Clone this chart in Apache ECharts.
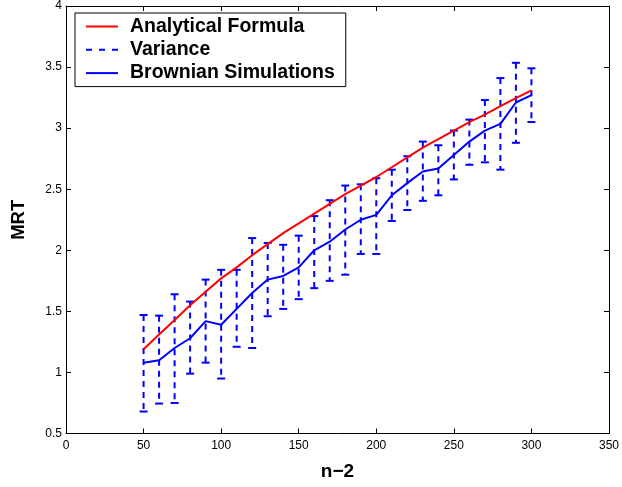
<!DOCTYPE html>
<html>
<head>
<meta charset="utf-8">
<script src="https://cdn.jsdelivr.net/npm/echarts@6/dist/echarts.min.js"></script>
<style>html,body{margin:0;padding:0;background:#fff}#c{width:622px;height:487px}</style>
</head>
<body>
<div id="c"></div>
<script>
const nValues = [50,60,70,80,90,100,110,120,130,140,150,160,170,180,190,200,210,220,230,240,250,260,270,280,290,300];
const analytical = [1.19,1.31,1.43,1.55,1.66,1.77,1.86,1.96,2.05,2.14,2.22,2.30,2.38,2.46,2.53,2.60,2.68,2.76,2.84,2.91,2.98,3.05,3.11,3.18,3.245,3.31];
const brownian = [1.08,1.10,1.20,1.28,1.42,1.39,1.52,1.65,1.76,1.79,1.86,2.00,2.07,2.17,2.25,2.29,2.45,2.55,2.645,2.67,2.78,2.89,2.98,3.035,3.21,3.27];
const varHigh = [1.47,1.465,1.64,1.58,1.76,1.84,1.84,2.10,2.06,2.045,2.12,2.28,2.41,2.53,2.54,2.59,2.66,2.77,2.89,2.86,2.98,3.07,3.23,3.41,3.535,3.49];
const varLow = [0.68,0.745,0.75,0.99,1.08,0.95,1.21,1.20,1.46,1.52,1.60,1.69,1.75,1.80,1.97,1.97,2.24,2.33,2.405,2.45,2.58,2.70,2.72,2.66,2.88,3.05];
const xTicks = {min:0, max:350, interval:50};
const yTicks = {min:0.5, max:4, interval:0.5};

const chart = echarts.init(document.getElementById('c'));
const font = 'Liberation Sans, Arial, Helvetica, sans-serif';
const axisCommon = {
  axisLine:{show:true, onZero:false, lineStyle:{color:'#000', width:1}},
  axisTick:{show:true, inside:true, length:5, lineStyle:{color:'#000'}},
  splitLine:{show:false}
};
const errData = nValues.map((n,i)=>[n, varLow[i], varHigh[i]]);
const blue = '#0000ff';
chart.setOption({
  animation:false,
  backgroundColor:'#fff',
  grid:{left:66, right:10, top:6, bottom:53.5},
  legend:{
    orient:'vertical', left:75, top:13,
    backgroundColor:'#fff', borderColor:'#000', borderWidth:1,
    padding:[3,11,3,11], itemGap:2.3, itemWidth:32, itemHeight:2,
    textStyle:{fontFamily:font, fontWeight:'bold', fontSize:19.5, color:'#000', lineHeight:21, padding:[0,0,0,7]},
    data:[
      {name:'Analytical Formula', icon:'path://M0 0H32V2H0Z', itemStyle:{color:'#ff0000'}},
      {name:'Variance', icon:'path://M0 0H6V2H0Z M13 0H19V2H13Z M26 0H32V2H26Z', itemStyle:{color:blue}},
      {name:'Brownian Simulations', icon:'path://M0 0H32V2H0Z', itemStyle:{color:blue}}
    ]
  },
  xAxis:[
    Object.assign({type:'value', min:xTicks.min, max:xTicks.max, interval:xTicks.interval,
      name:'n\u22122', nameLocation:'middle', nameGap:29,
      nameTextStyle:{fontFamily:font, fontWeight:'bold', fontSize:19, color:'#000'},
      axisLabel:{fontFamily:font, fontSize:12, color:'#000', margin:6}}, axisCommon),
    Object.assign({type:'value', position:'top', min:xTicks.min, max:xTicks.max, interval:xTicks.interval,
      axisLabel:{show:false}}, axisCommon)
  ],
  yAxis:[
    Object.assign({type:'value', min:yTicks.min, max:yTicks.max, interval:yTicks.interval,
      name:'MRT', nameLocation:'middle', nameGap:38, nameRotate:90,
      nameTextStyle:{fontFamily:font, fontWeight:'bold', fontSize:18.5, color:'#000'},
      axisLabel:{fontFamily:font, fontSize:12, color:'#000', margin:4}}, axisCommon),
    Object.assign({type:'value', position:'right', min:yTicks.min, max:yTicks.max, interval:yTicks.interval,
      axisLabel:{show:false}}, axisCommon)
  ],
  series:[
    {
      name:'Variance', type:'custom', data:errData, z:2,
      itemStyle:{color:blue},
      encode:{x:0, y:[1,2]},
      renderItem:function(params, api){
        const x = api.value(0), lo = api.value(1), hi = api.value(2);
        const pLo = api.coord([x, lo]), pHi = api.coord([x, hi]);
        const w = 4;
        const dashed = {stroke:blue, lineWidth:2, lineDash:[6,5], fill:null};
        const solid = {stroke:blue, lineWidth:2, fill:null};
        return {type:'group', children:[
          {type:'line', shape:{x1:pHi[0], y1:pHi[1], x2:pLo[0], y2:pLo[1]}, style:dashed},
          {type:'line', shape:{x1:pHi[0]-w, y1:pHi[1], x2:pHi[0]+w, y2:pHi[1]}, style:solid},
          {type:'line', shape:{x1:pLo[0]-w, y1:pLo[1], x2:pLo[0]+w, y2:pLo[1]}, style:solid}
        ]};
      }
    },
    {
      name:'Analytical Formula', type:'line', data:nValues.map((n,i)=>[n, analytical[i]]),
      showSymbol:false, symbol:'none', smooth:false, z:3,
      lineStyle:{color:'#ff0000', width:2}, itemStyle:{color:'#ff0000'}
    },
    {
      name:'Brownian Simulations', type:'line', data:nValues.map((n,i)=>[n, brownian[i]]),
      showSymbol:false, symbol:'none', z:4,
      lineStyle:{color:blue, width:2}, itemStyle:{color:blue}
    }
  ]
});
</script>
</body>
</html>
